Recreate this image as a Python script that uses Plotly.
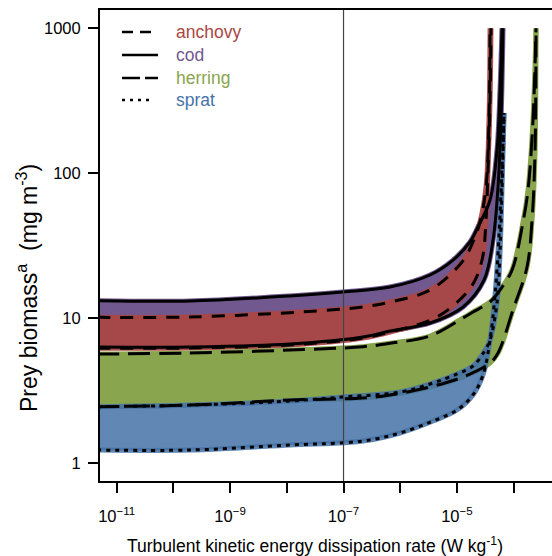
import plotly.graph_objects as go

# ---- data (log10 of dissipation rate, prey biomass mg m^-3) ----
cod_upper_logeps = [-11.35, -9.707, -7.944, -7.009, -6.180, -5.474, -5.068, -4.769, -4.628, -4.416, -4.293, -4.240, -4.205]
cod_upper_biomass = [13.22, 13.16, 14.25, 15.18, 16.44, 19.89, 25.2, 33.6, 42.7, 65.4, 144.8, 375, 1000]

cod_lower_logeps = [-11.35, -9.707, -7.944, -6.656, -6.180, -5.474, -4.892, -4.522, -4.363, -4.275, -4.222, -4.187]
cod_lower_biomass = [6.34, 6.34, 6.65, 7.43, 8.17, 9.28, 11.97, 18.37, 34.7, 80.4, 233, 1000]

anchovy_upper_logeps = [-11.35, -9.707, -7.767, -6.656, -6.180, -5.474, -4.910, -4.716, -4.593, -4.487, -4.434, -4.416]
anchovy_upper_biomass = [10.16, 10.21, 11.05, 11.97, 12.95, 15.67, 24.45, 33.6, 46.1, 80.4, 233, 1000]

anchovy_lower_logeps = [-11.35, -9.707, -7.944, -6.656, -6.180, -5.351, -4.751, -4.557, -4.487, -4.452, -4.416, -4.399]
anchovy_lower_biomass = [6.21, 6.24, 6.55, 7.31, 8.04, 10.21, 16.44, 25.24, 47.6, 105.4, 320, 1000]

herring_upper_logeps = [-11.35, -9.707, -7.944, -6.656, -6.180, -5.474, -4.892, -4.716, -4.416, -4.240, -4.028, -3.834, -3.746, -3.658, -3.605]
herring_upper_biomass = [5.67, 5.76, 6.04, 6.37, 6.72, 7.55, 10.05, 11.05, 12.95, 15.67, 21.5, 46.1, 76.7, 233, 1000]

herring_lower_logeps = [-11.35, -9.707, -7.944, -6.656, -6.180, -5.474, -4.892, -4.416, -4.275, -4.011, -3.764, -3.675, -3.623, -3.605]
herring_lower_biomass = [2.457, 2.52, 2.73, 2.82, 2.96, 3.36, 3.94, 4.92, 5.76, 11.43, 22.6, 47.6, 138, 1000]

sprat_upper_logeps = [-11.35, -9.707, -7.944, -7.009, -6.003, -5.421, -4.998, -4.716, -4.522, -4.416, -4.293, -4.240, -4.205, -4.169]
sprat_upper_biomass = [2.457, 2.52, 2.69, 2.87, 3.10, 3.58, 4.13, 4.69, 5.86, 7.09, 12.75, 28.2, 76.7, 260.6]

sprat_lower_logeps = [-11.35, -9.707, -7.944, -6.656, -6.003, -5.421, -4.998, -4.716, -4.540, -4.416, -4.328, -4.258, -4.205, -4.169]
sprat_lower_biomass = [1.235, 1.235, 1.337, 1.425, 1.618, 1.957, 2.33, 2.96, 4.06, 7.09, 14.48, 37.5, 105.4, 260.6]

reference_eps = 1e-7

species = ["anchovy", "cod", "herring", "sprat"]
species_colors = {"anchovy": "#AA4643", "cod": "#71588F", "herring": "#89A54E", "sprat": "#4572A7"}
fill_colors = {"anchovy": "rgba(170,70,67,0.92)", "cod": "rgba(113,88,143,1)",
               "herring": "rgba(137,165,78,1)", "sprat": "rgba(69,114,167,0.85)"}
dashes = {"anchovy": "13px,10px", "cod": "solid", "herring": "22px,9px", "sprat": "4px,5px"}
legend_dashes = {"anchovy": "11px,7px", "cod": "solid", "herring": "18px,5px", "sprat": "3px,5px"}

curves = {
    "cod": ((cod_upper_logeps, cod_upper_biomass), (cod_lower_logeps, cod_lower_biomass)),
    "anchovy": ((anchovy_upper_logeps, anchovy_upper_biomass), (anchovy_lower_logeps, anchovy_lower_biomass)),
    "herring": ((herring_upper_logeps, herring_upper_biomass), (herring_lower_logeps, herring_lower_biomass)),
    "sprat": ((sprat_upper_logeps, sprat_upper_biomass), (sprat_lower_logeps, sprat_lower_biomass)),
}

def ev(le):
    return [10 ** v for v in le]

fig = go.Figure()
SM = 1.0
# coloured bands (with coloured border, as in the original polygons)
for sp in ["cod", "anchovy", "herring", "sprat"]:
    (ule, ub), (lle, lb) = curves[sp]
    fig.add_trace(go.Scatter(x=ev(lle), y=lb, mode="lines",
                             line=dict(width=5, color=fill_colors[sp], shape="spline", smoothing=SM),
                             showlegend=False, hoverinfo="skip"))
    fig.add_trace(go.Scatter(x=ev(ule), y=ub, mode="lines",
                             line=dict(width=5, color=fill_colors[sp], shape="spline", smoothing=SM),
                             fill="tonexty", fillcolor=fill_colors[sp], showlegend=False, hoverinfo="skip"))
# black boundary lines on top
for sp in ["cod", "anchovy", "herring", "sprat"]:
    for le, b in curves[sp]:
        fig.add_trace(go.Scatter(x=ev(le), y=b, mode="lines",
                                 line=dict(color="black", width=3, dash=dashes[sp], shape="spline", smoothing=SM),
                                 showlegend=False, hoverinfo="skip"))

# vertical reference line
fig.add_trace(go.Scatter(x=[reference_eps, reference_eps], y=[0.5, 3000], mode="lines",
                         line=dict(color="#444444", width=1.2), showlegend=False, hoverinfo="skip"))

FONT = "Liberation Sans, Arial, sans-serif"
L, R, T, B, W, H = 100, 0, 10, 75, 552, 556
pw, ph = W - L - R, H - T - B

def px2paper(px, py):
    return (px - L) / pw, (H - B - py) / ph

# manual legend
rows = {"anchovy": 32, "cod": 55, "herring": 78, "sprat": 100}
ends = {"anchovy": 152, "cod": 158, "herring": 158, "sprat": 153}
for sp in species:
    x0, y0 = px2paper(122, rows[sp])
    x1, _ = px2paper(ends[sp], rows[sp])
    fig.add_shape(type="line", xref="paper", yref="paper", x0=x0, x1=x1, y0=y0, y1=y0,
                  line=dict(color="black", width=2.5, dash=legend_dashes[sp]))
    tx, ty = px2paper(174, rows[sp])
    fig.add_annotation(xref="paper", yref="paper", x=tx, y=ty, text=sp, showarrow=False,
                       xanchor="left", yanchor="middle",
                       font=dict(family=FONT, size=17.5, color=species_colors[sp]))

# axis titles
ax, ay = px2paper(315, 545)
fig.add_annotation(xref="paper", yref="paper", x=ax, y=ay, showarrow=False, xanchor="center", yanchor="middle",
                   text="Turbulent kinetic energy dissipation rate (W kg<sup>-1</sup>)",
                   font=dict(family=FONT, size=17.5, color="black"))
yx, yy = px2paper(27, 288)
fig.add_annotation(xref="paper", yref="paper", x=yx, y=yy, showarrow=False, xanchor="center", yanchor="middle",
                   textangle=-90, text="Prey biomass<sup>a</sup>  (mg m<sup>-3</sup>)",
                   font=dict(family=FONT, size=23, color="black"))

xt_exp = [-11, -10, -9, -8, -7, -6, -5, -4]
xt_vals = [10 ** e for e in xt_exp]
xt_text = [("10<sup>\u2212%d</sup>" % (-e)) if e % 2 else "" for e in xt_exp]
yt_vals = [1, 10, 100, 1000]
yt_text = ["1", "10", "100", "1000"]

fig.update_layout(
    width=W, height=H, margin=dict(l=L, r=R, t=T, b=B, pad=0),
    paper_bgcolor="white", plot_bgcolor="white",
    font=dict(family=FONT, size=16.5, color="black"),
    xaxis=dict(type="log", range=[-11.295, -3.323], tickvals=xt_vals, ticktext=xt_text,
               showgrid=False, zeroline=False, showline=True, linecolor="black", linewidth=2,
               mirror=True, ticks="outside", ticklen=10, tickwidth=2, tickcolor="black",
               ticklabelstandoff=9,
               tickfont=dict(family=FONT, size=16.5, color="black")),
    yaxis=dict(type="log", range=[-0.122, 3.126], tickvals=yt_vals, ticktext=yt_text,
               showgrid=False, zeroline=False, showline=True, linecolor="black", linewidth=2,
               mirror=False, ticks="outside", ticklen=10, tickwidth=2, tickcolor="black",
               ticklabelstandoff=4,
               tickfont=dict(family=FONT, size=16.5, color="black")),
)

fig.write_html("out.html")
